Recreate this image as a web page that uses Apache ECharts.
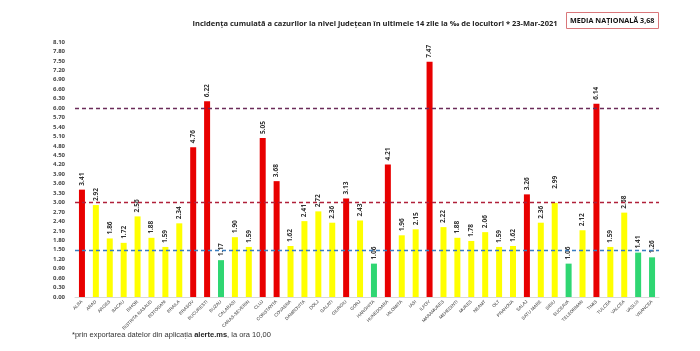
<!DOCTYPE html>
<html>
<head>
<meta charset="utf-8">
<script src="https://cdn.jsdelivr.net/npm/echarts@6/dist/echarts.min.js"></script>
<style>
  html, body { margin: 0; padding: 0; background: #fff; }
  #main { width: 700px; height: 351px; }
</style>
</head>
<body>
<div id="main"></div>
<script>
// judete
var counties = ['ALBA', 'ARAD', 'ARGES', 'BACAU', 'BIHOR', 'BISTRITA NASAUD', 'BOTOSANI', 'BRAILA',
  'BRASOV', 'BUCURESTI', 'BUZAU', 'CALARASI', 'CARAS-SEVERIN', 'CLUJ', 'CONSTANTA', 'COVASNA',
  'DAMBOVITA', 'DOLJ', 'GALATI', 'GIURGIU', 'GORJ', 'HARGHITA', 'HUNEDOARA', 'IALOMITA', 'IASI',
  'ILFOV', 'MARAMURES', 'MEHEDINTI', 'MURES', 'NEAMT', 'OLT', 'PRAHOVA', 'SALAJ', 'SATU MARE',
  'SIBIU', 'SUCEAVA', 'TELEORMAN', 'TIMIS', 'TULCEA', 'VALCEA', 'VASLUI', 'VRANCEA'];

// incidenta la mia de locuitori
var incidence = [3.41, 2.92, 1.86, 1.72, 2.56, 1.88, 1.59, 2.34,
  4.76, 6.22, 1.17, 1.90, 1.59, 5.05, 3.68, 1.62,
  2.41, 2.72, 2.36, 3.13, 2.43, 1.06, 4.21, 1.96, 2.15,
  7.47, 2.22, 1.88, 1.78, 2.06, 1.59, 1.62, 3.26, 2.36,
  2.99, 1.06, 2.12, 6.14, 1.59, 2.68, 1.41, 1.26];

// praguri (linii punctate)
var thresholds = [1.5, 3, 6];
var nationalAvg = '3,68';

var myChart = echarts.init(document.getElementById('main'));

function barColor(v) {
  if (v > 3) return '#e80000';
  if (v > 1.5) return '#ffff00';
  return '#2fd672';
}

var option = {
  animation: false,
  title: [{
    text: 'Incidența cumulată a cazurilor la nivel județean în ultimele 14 zile la ‰ de locuitori * 23-Mar-2021',
    left: 370,
    textAlign: 'center',
    top: 15,
    textStyle: { fontSize: 7.5, fontWeight: 'bold', color: '#222', fontFamily: 'Open Sans' }
  }, {
    text: 'MEDIA NAȚIONALĂ ' + nationalAvg,
    left: 566,
    top: 12,
    padding: [5, 4, 5, 4],
    borderColor: '#d9777a',
    borderWidth: 1,
    textStyle: { fontSize: 7.2, fontWeight: 'bold', color: '#111', fontFamily: 'Open Sans' }
  }],
  graphic: [{
    type: 'text',
    left: 72,
    top: 331,
    style: {
      rich: {
        n: { fontSize: 7.5, fill: '#333', fontFamily: 'Liberation Sans' },
        b: { fontSize: 7.5, fill: '#222', fontWeight: 'bold', fontFamily: 'Liberation Sans' }
      },
      text: '{n|*prin exportarea datelor din aplicația }{b|alerte.ms}{n|, la ora 10,00}'
    }
  }],
  grid: { left: 75, right: 41, top: 42, bottom: 54 },
  xAxis: {
    type: 'category',
    data: counties,
    axisLine: { lineStyle: { color: '#d9d9d9' } },
    axisTick: { show: false },
    axisLabel: {
      interval: 0,
      rotate: 45,
      fontSize: 4.5,
      color: '#333',
      margin: 4,
      fontFamily: 'Liberation Sans'
    }
  },
  yAxis: {
    type: 'value',
    min: 0,
    max: 8.1,
    interval: 0.3,
    axisLine: { show: false },
    axisTick: { show: false },
    splitLine: { show: false },
    axisLabel: {
      fontSize: 6,
      color: '#444',
      fontWeight: 'bold',
      margin: 10,
      fontFamily: 'Open Sans',
      formatter: function (v) { return v.toFixed(2); }
    }
  },
  series: [{
    type: 'bar',
    barWidth: 6,
    data: incidence.map(function (v, i) {
      var item = { value: v, itemStyle: { color: barColor(v) } };
      // SIBIU: eticheta mutata mai sus in original
      if (counties[i] === 'SIBIU') item.label = { distance: 14 };
      return item;
    }),
    label: {
      show: true,
      position: 'top',
      rotate: 90,
      align: 'left',
      verticalAlign: 'middle',
      distance: 4,
      fontSize: 6.5,
      fontWeight: 'bold',
      color: '#333',
      fontFamily: 'Open Sans',
      formatter: function (p) { return p.value.toFixed(2); }
    },
    markLine: {
      silent: true,
      symbol: 'none',
      label: { show: false },
      data: [
        { yAxis: thresholds[0], lineStyle: { color: '#3a7dc0', type: [4, 3], width: 1.3 } },
        { yAxis: thresholds[1], lineStyle: { color: '#b0203a', type: [4, 3], width: 1.3 } },
        { yAxis: thresholds[2], lineStyle: { color: '#6b2c5a', type: [4, 3], width: 1.3 } }
      ]
    }
  }]
};

myChart.setOption(option);
</script>
</body>
</html>
